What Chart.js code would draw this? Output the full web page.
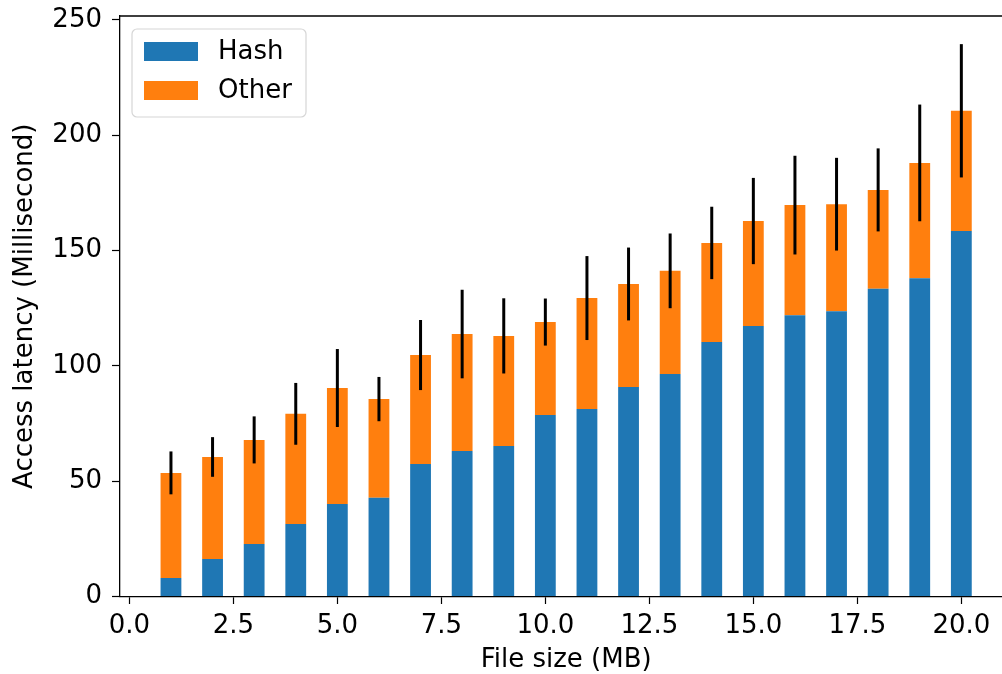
<!DOCTYPE html>
<html>
<head>
<meta charset="utf-8">
<title>Access latency by file size</title>
<script src="https://cdn.jsdelivr.net/npm/chart.js@4.4.1/dist/chart.umd.min.js"></script>
<style>
  html, body { margin: 0; padding: 0; background: #fff; overflow: hidden; }
  #wrap { position: relative; width: 1020px; height: 674px; }
</style>
</head>
<body>
<div id="wrap"><canvas id="latencyChart"></canvas></div>
<script>
// ------------------------
// DATA
// ------------------------
const fileSizes = [1, 2, 3, 4, 5, 6, 7, 8, 9, 10, 11, 12, 13, 14, 15, 16, 17, 18, 19, 20];
const hashLatency = [8.0, 16.3, 22.8, 31.4, 40.1, 42.8, 57.5, 63.1, 65.3, 78.7, 81.3, 90.8, 96.5, 110.4, 117.3, 122.0, 123.7, 133.4, 138.0, 158.5];
const otherLatency = [45.6, 44.2, 45.1, 47.8, 50.3, 42.8, 47.2, 50.7, 47.7, 40.3, 48.1, 44.7, 44.7, 42.9, 45.5, 47.7, 46.4, 42.9, 50.0, 52.1];
const latencyError = [9.3, 8.6, 10.2, 13.4, 16.9, 9.6, 15.2, 19.2, 16.3, 10.2, 18.2, 15.8, 16.2, 15.7, 18.7, 21.4, 20.1, 18.0, 25.3, 28.9];

const xTickValues = [0, 2.5, 5, 7.5, 10, 12.5, 15, 17.5, 20];
const yTickValues = [0, 50, 100, 150, 200, 250];
const xRange = [-0.225, 21.225];
const yRange = [0, 251.7];

const seriesNames = ["Hash", "Other"];
const seriesColors = ["#1f77b4", "#ff7f0e"];

Chart.defaults.font.family = "'DejaVu Sans', sans-serif";
Chart.defaults.font.size = 26;
Chart.defaults.color = "#000";

// ------------------------
// PLUGINS
// ------------------------
const errorBars = {
  id: "errorBars",
  afterDatasetsDraw(chart) {
    const { ctx, scales: { x, y } } = chart;
    ctx.save();
    ctx.strokeStyle = "#000";
    ctx.lineWidth = 3;
    fileSizes.forEach((size, i) => {
      const total = hashLatency[i] + otherLatency[i];
      const px = x.getPixelForValue(size);
      ctx.beginPath();
      ctx.moveTo(px, y.getPixelForValue(total - latencyError[i]));
      ctx.lineTo(px, y.getPixelForValue(total + latencyError[i]));
      ctx.stroke();
    });
    ctx.restore();
  }
};

// top and right spines (bottom/left come from the axes)
const frame = {
  id: "frame",
  afterDraw(chart) {
    const { ctx, chartArea: a } = chart;
    ctx.save();
    ctx.strokeStyle = "#000";
    ctx.lineWidth = 1.3;
    ctx.beginPath();
    ctx.moveTo(a.left, a.top);
    ctx.lineTo(a.right, a.top);
    ctx.lineTo(a.right, a.bottom);
    ctx.stroke();
    ctx.restore();
  }
};

// matplotlib-style legend box in the upper left
const boxLegend = {
  id: "boxLegend",
  afterDraw(chart) {
    const { ctx, chartArea: a } = chart;
    const left = a.left + 12;
    const top = a.top + 13;
    ctx.save();
    ctx.fillStyle = "rgba(255,255,255,0.8)";
    ctx.strokeStyle = "#d6d6d6";
    ctx.lineWidth = 1.2;
    ctx.beginPath();
    ctx.roundRect(left, top, 174, 88, 5);
    ctx.fill();
    ctx.stroke();

    ctx.font = "26px 'DejaVu Sans'";
    ctx.textBaseline = "alphabetic";
    chart.data.datasets.forEach((ds, i) => {
      const rowY = top + 13 + i * 39;
      ctx.fillStyle = ds.backgroundColor;
      ctx.fillRect(left + 12, rowY, 54, 19);
      ctx.fillStyle = "#000";
      ctx.fillText(ds.label, left + 86, rowY + 17.3);
    });
    ctx.restore();
  }
};

// ------------------------
// CHART
// ------------------------
const ctx = document.getElementById("latencyChart");

new Chart(ctx, {
  type: "bar",
  data: {
    datasets: [
      {
        label: seriesNames[0],
        data: fileSizes.map((s, i) => ({ x: s, y: hashLatency[i] })),
        backgroundColor: seriesColors[0],
        grouped: false,
        barPercentage: 0.5,
        categoryPercentage: 1
      },
      {
        label: seriesNames[1],
        data: fileSizes.map((s, i) => ({ x: s, y: otherLatency[i] })),
        backgroundColor: seriesColors[1],
        grouped: false,
        barPercentage: 0.5,
        categoryPercentage: 1
      }
    ]
  },
  options: {
    responsive: true,
    maintainAspectRatio: false,
    animation: false,
    layout: { padding: { top: 16, right: 7.7, left: 0, bottom: 0 } },
    plugins: {
      legend: { display: false },
      tooltip: { enabled: false }
    },
    scales: {
      x: {
        type: "linear",
        min: xRange[0],
        max: xRange[1],
        offset: false,
        afterBuildTicks: s => { s.ticks = xTickValues.map(v => ({ value: v })); },
        afterFit: s => { s.height = 77.5; s.paddingLeft = 0; s.paddingRight = 0; },
        ticks: {
          padding: 7,
          maxRotation: 0,
          autoSkip: false,
          callback: v => Number(v).toFixed(1)
        },
        grid: {
          offset: false,
          drawOnChartArea: false,
          drawTicks: true,
          tickLength: 7.5,
          tickColor: "#000",
          tickWidth: 1.2
        },
        border: { color: "#000", width: 1.3 },
        title: {
          display: true,
          text: "File size (MB)",
          font: { size: 26, lineHeight: 1.05 },
          padding: { top: 0, bottom: 0 }
        }
      },
      y: {
        stacked: true,
        min: yRange[0],
        max: yRange[1],
        afterBuildTicks: s => { s.ticks = yTickValues.map(v => ({ value: v })); },
        afterFit: s => { s.width = 120; s.paddingTop = 0; s.paddingBottom = 0; },
        ticks: { padding: 10 },
        grid: {
          drawOnChartArea: false,
          drawTicks: true,
          tickLength: 8,
          tickColor: "#000",
          tickWidth: 1.2
        },
        border: { color: "#000", width: 1.3 },
        title: {
          display: true,
          text: "Access latency (Millisecond)",
          font: { size: 26 },
          padding: { top: 10, bottom: 0 }
        }
      }
    }
  },
  plugins: [errorBars, frame, boxLegend]
});
</script>
</body>
</html>
